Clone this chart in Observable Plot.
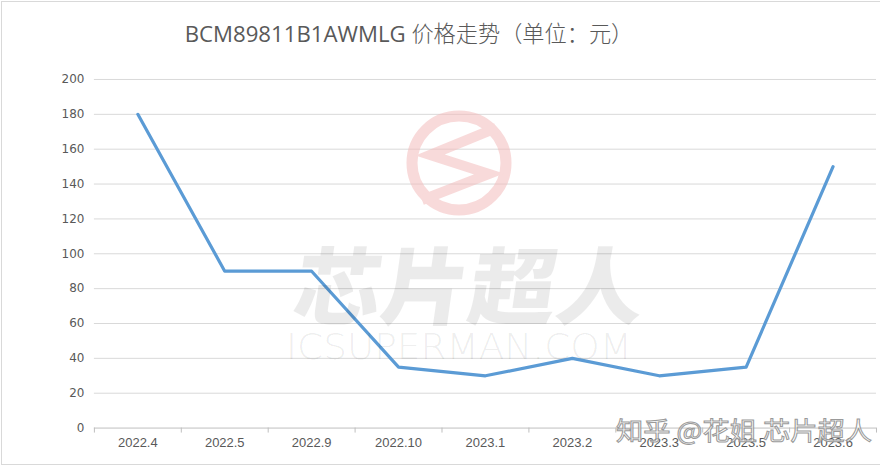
<!DOCTYPE html>
<html>
<head>
<meta charset="utf-8">
<script src="https://cdn.jsdelivr.net/npm/d3@7"></script>
<script src="https://cdn.jsdelivr.net/npm/@observablehq/plot@0.6"></script>
<style>
  html, body { margin: 0; padding: 0; background: #fff; }
  #wrap { position: relative; width: 878px; height: 462px; border: 1px solid #d9d9d9; margin: 1px 0 0 1px; overflow: hidden; background:#fff; }
  #title { position: absolute; left: 0; top: 0; width: 814px; height: 60px; text-align: center; line-height: 64px;
           font-family: "Open Sans", "Noto Sans CJK SC", sans-serif; font-size: 22.2px; color: #595959; }
  #title .zh { font-weight: 300; }
  #chart { position: absolute; left: -1px; top: 57px; }
  .wm { position: absolute; left: 0; top: 0; pointer-events: none; }
</style>
</head>
<body>
<div id="wrap">
  <div id="title">BCM89811B1AWMLG <span class="zh">价格走势（单位：元）</span></div>
  <div id="chart"></div>
  <svg class="wm" width="878" height="462">
    <g opacity="0.55">
      <circle cx="457" cy="161" r="47" fill="none" stroke="#f4bcbc" stroke-width="11"/>
      <polyline points="494,126 428,153 487,172 420,198" fill="none" stroke="#f4bcbc" stroke-width="10"/>
    </g>
    <text x="289" y="316" textLength="350" lengthAdjust="spacingAndGlyphs" transform="skewX(-8) translate(44,0)"
          font-family="Noto Sans CJK SC, sans-serif" font-weight="900" font-size="84" fill="#000" fill-opacity="0.08">芯片超人</text>
    <text x="284" y="357" textLength="346" lengthAdjust="spacingAndGlyphs"
          font-family="DejaVu Sans, sans-serif" font-weight="300" font-size="36" fill="#000" fill-opacity="0.08">ICSUPERMAN.COM</text>
    <text x="614" y="438" textLength="256" lengthAdjust="spacingAndGlyphs"
          font-family="Noto Sans CJK SC, sans-serif" font-size="25" fill="#ffffff" fill-opacity="0.6" stroke="#9a9a9a" stroke-width="1">知乎 @花姐 芯片超人</text>
  </svg>
</div>
<script>
const categories = ["2022.4", "2022.5", "2022.9", "2022.10", "2023.1", "2023.2", "2023.3", "2023.5", "2023.6"];
const prices = [180, 90, 90, 35, 30, 40, 30, 35, 150];
const yTicks = [0, 20, 40, 60, 80, 100, 120, 140, 160, 180, 200];

const data = categories.map((c, i) => ({ i, label: c, price: prices[i] }));
const boundaries = d3.range(-0.5, categories.length, 1);

const chart = Plot.plot({
  width: 880,
  height: 408,
  marginLeft: 93,
  marginRight: 4,
  marginTop: 20,
  marginBottom: 39,
  style: { fontFamily: "'Liberation Sans', sans-serif", fontSize: "12px", color: "#595959", background: "transparent" },
  x: { type: "linear", domain: [-0.5, categories.length - 0.5] },
  y: { domain: [0, 200] },
  marks: [
    Plot.gridY(yTicks.filter(d => d > 0), { stroke: "#d9d9d9", strokeOpacity: 1 }),
    Plot.axisY({ ticks: yTicks, tickSize: 0, tickPadding: 10, label: null, fill: "#595959",
                 fontFamily: "'DejaVu Sans', sans-serif", fontSize: 12 }),
    Plot.ruleY([0], { stroke: "#bfbfbf" }),
    Plot.axisX({ ticks: boundaries, tickSize: 5, tickFormat: () => "", stroke: "#bfbfbf", label: null }),
    Plot.axisX({ ticks: d3.range(categories.length), tickSize: 0, tickPadding: 10, label: null,
                 tickFormat: i => categories[i], fill: "#595959",
                 fontFamily: "'Liberation Sans Narrow', 'Liberation Sans', sans-serif", fontSize: 13 }),
    Plot.line(data, { x: "i", y: "price", stroke: "#5b9bd5", strokeWidth: 3.2, strokeLinejoin: "round", strokeLinecap: "round" })
  ]
});
document.getElementById("chart").appendChild(chart);
</script>
</body>
</html>
